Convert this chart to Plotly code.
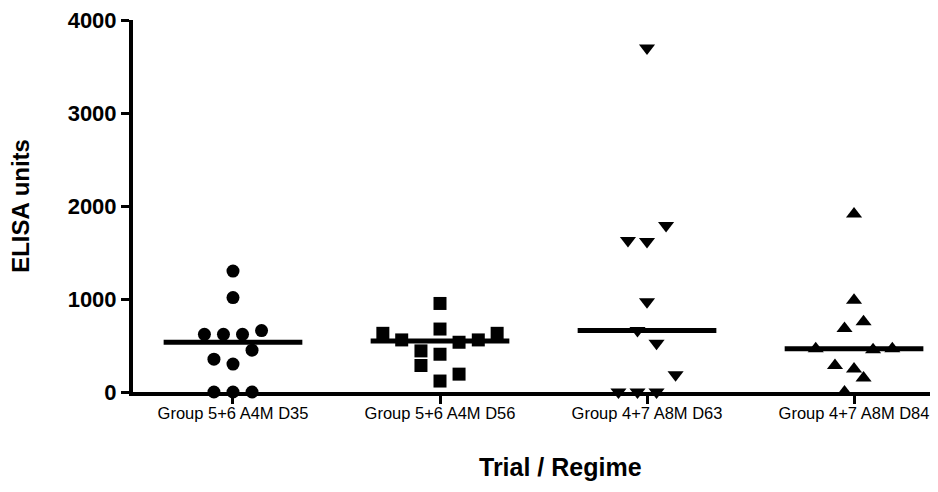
import numpy as np
import plotly.graph_objects as go

categories = ["Group 5+6 A4M D35", "Group 5+6 A4M D56", "Group 4+7 A8M D63", "Group 4+7 A8M D84"]

d35_values = [1300, 1015, 620, 620, 620, 660, 450, 353, 300, 0, 0, 0]
d35_offset = [0, 0, -0.138, -0.046, 0.046, 0.138, 0.092, -0.092, 0, -0.092, 0, 0.092]

d56_values = [952, 631, 560, 677, 535, 560, 631, 442, 285, 406, 192, 118]
d56_offset = [0, -0.276, -0.185, 0, 0.092, 0.185, 0.276, -0.092, -0.092, 0, 0.092, 0]

d63_values = [3700, 1790, 1629, 1618, 970, 660, 524, 185, 0, 0, 0]
d63_offset = [0, 0.092, -0.092, 0, 0, -0.046, 0.046, 0.138, -0.138, -0.046, 0.046]

d84_values = [1914, 987, 756, 684, 465, 455, 465, 285, 246, 150, 0]
d84_offset = [0, 0, 0.046, -0.046, -0.185, 0.092, 0.185, -0.092, 0, 0.046, -0.046]

y_ticks = [0, 1000, 2000, 3000, 4000]

groups = [
    (d35_values, d35_offset, "circle", 13),
    (d56_values, d56_offset, "square", 13),
    (d63_values, d63_offset, "triangle-down", 14),
    (d84_values, d84_offset, "triangle-up", 14),
]

FONT = "Liberation Sans, Arial, sans-serif"
fig = go.Figure()
for i, (vals, offs, sym, sz) in enumerate(groups):
    fig.add_trace(go.Scatter(
        x=[i + o for o in offs], y=vals, mode="markers",
        marker=dict(symbol=sym, size=sz, color="black", line=dict(width=0)),
        cliponaxis=False, showlegend=False, hoverinfo="y"))
    med = float(np.median(vals))
    fig.add_trace(go.Scatter(
        x=[i - 0.335, i + 0.335], y=[med, med], mode="lines",
        line=dict(color="black", width=5), cliponaxis=False,
        showlegend=False, hoverinfo="skip"))

fig.update_layout(
    width=922, height=476,
    margin=dict(l=125, r=0, t=12, b=92),
    paper_bgcolor="white", plot_bgcolor="white",
    font=dict(family=FONT, color="black"),
    xaxis=dict(
        range=[-0.483, 3.367], tickvals=[0, 1, 2, 3], ticktext=categories,
        automargin=False, ticklabeloverflow="allow", ticklabelstandoff=-5,
        showgrid=False, zeroline=False, showline=True, linewidth=4, linecolor="black",
        ticks="outside", ticklen=8, tickwidth=3, tickcolor="black",
        tickfont=dict(size=16.5, family=FONT, color="black"),
    ),
    yaxis=dict(
        range=[0, 4000], tickvals=y_ticks, automargin=False, ticklabeloverflow="allow",
        showgrid=False, zeroline=False, showline=True, linewidth=4, linecolor="black",
        ticks="outside", ticklen=8, tickwidth=3, tickcolor="black",
        tickfont=dict(size=22, family=FONT, color="black", weight=700),
    ),
    annotations=[
        dict(text="Trial / Regime", xref="paper", yref="paper", x=0.536, y=-0.2446,
             xanchor="center", yanchor="bottom", showarrow=False,
             font=dict(size=25, family=FONT, color="black", weight=700)),
        dict(text="ELISA units", xref="paper", yref="paper", x=-0.142, y=0.5,
             xanchor="center", yanchor="middle", showarrow=False, textangle=-90,
             font=dict(size=24, family=FONT, color="black", weight=700)),
    ],
)

fig.write_html("out.html")
